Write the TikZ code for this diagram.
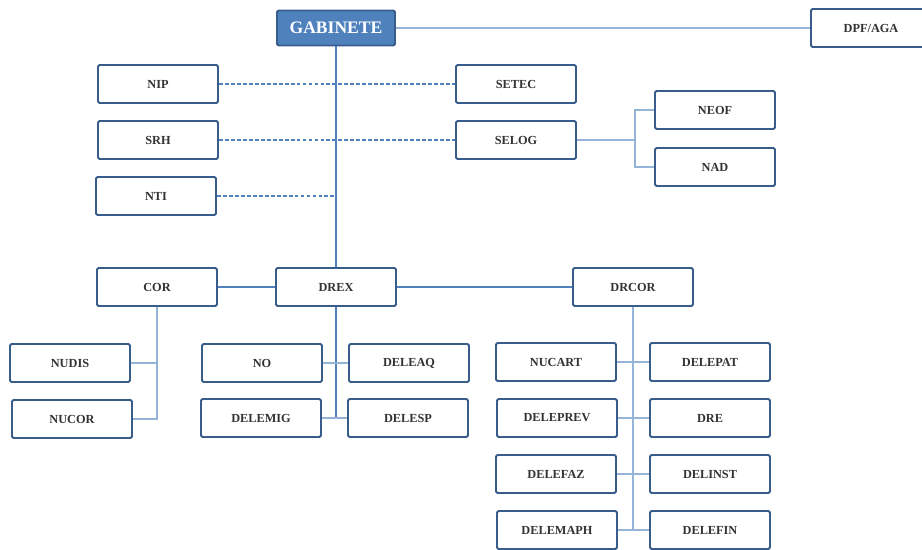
\documentclass[tikz,border=0pt]{standalone}
\usepackage{fontspec}
\setmainfont{Liberation Serif}
\definecolor{boxblue}{HTML}{385D8A}
\definecolor{midblue}{HTML}{4F81BD}
\definecolor{lightblue}{HTML}{95B3D7}
\tikzset{
    unit/.style={draw=boxblue,line width=1.1pt,fill=white,rounded corners=0.8pt,
        minimum width=2.4cm,minimum height=0.76cm,inner sep=0pt,
        font=\fontsize{7}{8}\selectfont\bfseries,text=black!80},
    head/.style={unit,fill=midblue,text=white,minimum width=2.36cm,minimum height=0.7cm,
        font=\fontsize{10}{12}\selectfont\bfseries},
    mainline/.style={midblue,line width=1.1pt},
    subline/.style={lightblue,line width=0.9pt},
    staffline/.style={midblue,line width=0.9pt,dash pattern=on 2.2pt off 1.2pt}
}
\begin{document}
\begin{tikzpicture}[x=0.02cm,y=-0.02cm]
    \useasboundingbox (0,0) rectangle (922,549);
    % Top level
    \node[head] (gab) at (336,28) {GABINETE};
    \node[unit] (dpf) at (871,28) {DPF/AGA};
    % Staff units
    \node[unit] (nip) at (158,84) {NIP};
    \node[unit] (srh) at (158,140) {SRH};
    \node[unit] (nti) at (156,196) {NTI};
    \node[unit] (setec) at (516,84) {SETEC};
    \node[unit] (selog) at (516,140) {SELOG};
    \node[unit] (neof) at (715,110) {NEOF};
    \node[unit] (nad) at (715,167) {NAD};
    % Second level
    \node[unit] (cor) at (157,287) {COR};
    \node[unit] (drex) at (336,287) {DREX};
    \node[unit] (drcor) at (633,287) {DRCOR};
    % COR units
    \node[unit] (nudis) at (70,363) {NUDIS};
    \node[unit] (nucor) at (72,419) {NUCOR};
    % DREX units
    \node[unit] (no) at (262,363) {NO};
    \node[unit] (deleaq) at (409,363) {DELEAQ};
    \node[unit] (delemig) at (261,418) {DELEMIG};
    \node[unit] (delesp) at (408,418) {DELESP};
    % DRCOR units
    \node[unit] (nucart) at (556,362) {NUCART};
    \node[unit] (delepat) at (710,362) {DELEPAT};
    \node[unit] (deleprev) at (557,418) {DELEPREV};
    \node[unit] (dre) at (710,418) {DRE};
    \node[unit] (delefaz) at (556,474) {DELEFAZ};
    \node[unit] (delinst) at (710,474) {DELINST};
    \node[unit] (delemaph) at (557,530) {DELEMAPH};
    \node[unit] (delefin) at (710,530) {DELEFIN};
    % Connectors
    \draw[subline] (gab.east) -- (dpf.west);
    \draw[mainline] (gab.south) -- (drex.north);
    \draw[staffline] (nip.east) -- (setec.west);
    \draw[staffline] (srh.east) -- (selog.west);
    \draw[staffline] (nti.east) -- (nti.east -| gab.south);
    \coordinate (selogbus) at (635,140);
    \draw[subline] (selog.east) -- (selogbus);
    \draw[subline] (neof.west) -| (selogbus) |- (nad.west);
    \draw[mainline] (cor.east) -- (drex.west);
    \draw[mainline] (drex.east) -- (drcor.west);
    % COR branch
    \draw[subline] (cor.south) |- (nucor.east);
    \draw[subline] (nudis.east) -- (nudis.east -| cor.south);
    % DREX branch
    \draw[mainline] (drex.south) -- (drex.south |- delemig.east);
    \draw[subline] (no.east) -- (deleaq.west);
    \draw[subline] (delemig.east) -- (delesp.west);
    % DRCOR branch
    \draw[subline] (drcor.south) -- (drcor.south |- delemaph.east);
    \draw[subline] (nucart.east) -- (delepat.west);
    \draw[subline] (deleprev.east) -- (dre.west);
    \draw[subline] (delefaz.east) -- (delinst.west);
    \draw[subline] (delemaph.east) -- (delefin.west);
\end{tikzpicture}
\end{document}
